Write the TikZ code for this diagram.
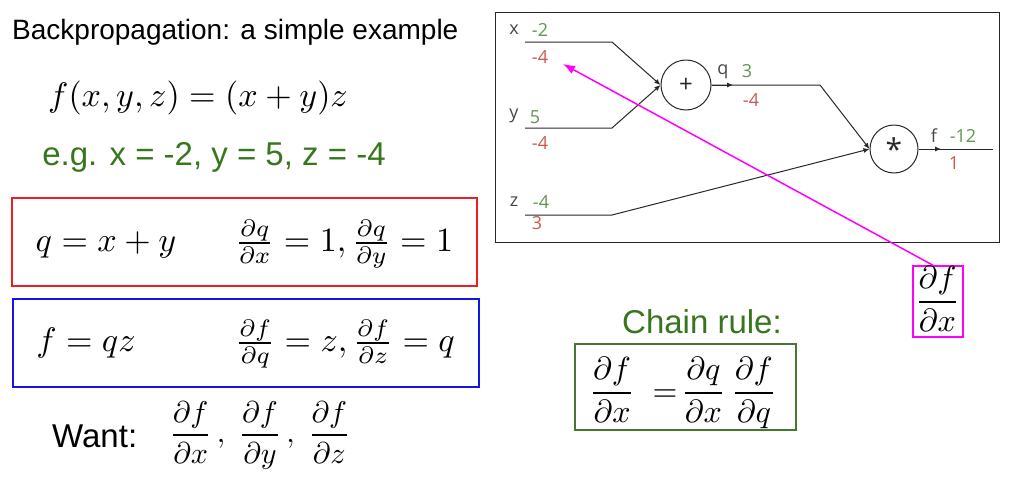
\documentclass[tikz,border=0pt]{standalone}
\usepackage{amsmath}
\usepackage[no-math]{fontspec}
\setmainfont{Liberation Sans}
\newfontfamily\graphfont{Open Sans}
\usetikzlibrary{arrows.meta}
\newcommand\setfs[1]{\fontsize{#1}{#1}\selectfont}
\definecolor{egreen}{HTML}{38761D}
\definecolor{valgreen}{RGB}{95,150,80}
\definecolor{valred}{RGB}{200,90,80}
\definecolor{lbgray}{RGB}{70,70,70}
\definecolor{linegray}{RGB}{40,40,40}
\definecolor{boxred}{RGB}{235,30,35}
\definecolor{boxblue}{RGB}{20,20,230}
\definecolor{boxgreen}{RGB}{70,120,50}
\definecolor{mag}{RGB}{255,0,255}
\begin{document}
\begin{tikzpicture}[x=1pt,y=-1pt,
  lbl/.style={font=\graphfont\setfs{18}, text=lbgray, inner sep=0pt},
  gval/.style={lbl, text=valgreen},
  rval/.style={lbl, text=valred},
  opnode/.style={circle, draw=linegray, line width=1pt, minimum size=50pt, inner sep=0pt, font=\graphfont\setfs{24}, text=linegray},
  wire/.style={draw=linegray, line width=1pt},
  tip/.style={-{Latex[length=6pt,width=5pt]}},
  mth/.style={inner sep=0pt, anchor=base, font=\normalsize},
  frame/.style={draw, line width=1.5pt, inner sep=0pt},
  ]
\useasboundingbox (0,0) rectangle (1010,477);

% left column
\node[anchor=base west, font=\setfs{28}, inner sep=0pt] (title) at (12,39) {Backpropagation: a simple example};
\node[mth, scale=3.4] (feq) at (198,106.5) {$f(x,y,z) = (x+y)z$};
\node[anchor=base, font=\setfs{33}, text=egreen, inner sep=0pt] (eg) at (214,165) {e.g. x = -2, y = 5, z = -4};

\node[frame, draw=boxred, minimum width=465pt, minimum height=88pt] (rbox) at (244.5,242) {};
\node[mth, scale=3.4] (qeq) at (106,251.5) {$q = x + y$};
\node[mth, scale=3.4] (qd) at (344,251.5) {$\frac{\partial q}{\partial x} = 1, \frac{\partial q}{\partial y} = 1$};

\node[frame, draw=boxblue, minimum width=466pt, minimum height=88pt] (bbox) at (246,343) {};
\node[mth, scale=3.4] (feq2) at (86,351.5) {$f = qz$};
\node[mth, scale=3.4] (fd) at (345,351.5) {$\frac{\partial f}{\partial q} = z, \frac{\partial f}{\partial z} = q$};

\node[anchor=base west, font=\setfs{33}, inner sep=0pt] (want) at (52,447) {Want:};
\node[mth, scale=3.0] (wantfr) at (260,442.5) {$\dfrac{\partial f}{\partial x}\,,\;\dfrac{\partial f}{\partial y}\,,\;\dfrac{\partial f}{\partial z}$};

% chain rule
\node[anchor=base, font=\setfs{33}, text=egreen, inner sep=0pt] (chain) at (702,333) {Chain rule:};
\node[frame, draw=boxgreen, minimum width=221pt, minimum height=86pt] (gbox2) at (685.5,387) {};
\node[mth, scale=3.2] (ceq) at (683,401) {$\dfrac{\partial f}{\partial x}\; = \!\dfrac{\partial q}{\partial x}\,\dfrac{\partial f}{\partial q}$};

% magenta
\node[frame, draw=mag, minimum width=50pt, minimum height=71pt] (mbox) at (938,301.5) {};
\node[mth, scale=3.2] (mfr) at (937.5,310) {$\dfrac{\partial f}{\partial x}$};

% graph
\node[draw=linegray, line width=1pt, minimum width=504pt, minimum height=230pt, inner sep=0pt] (gframe) at (747,127) {};
\node[opnode] (plus) at (686,85) {+};
\node[opnode, minimum size=48pt, font=\graphfont\setfs{30}] (times) at (894,149) {\raisebox{-8pt}{*}};

\coordinate (xs) at (525,42); \coordinate (xk) at (612,42);
\coordinate (ys) at (525,128); \coordinate (yk) at (612,128);
\coordinate (zs) at (525,215); \coordinate (zk) at (612,215);
\coordinate (qk) at (820,85); \coordinate (qm) at (733,85);
\coordinate (fe) at (993,149); \coordinate (fm) at (941,149);

\draw[wire, tip] (xs) -- (xk) -- (plus.west);
\draw[wire, tip] (ys) -- (yk) -- (plus.west);
\draw[wire, tip] (zs) -- (zk) -- (times.west);
\draw[wire, tip] (plus.east) -- (qk) -- (times.west);
\draw[wire, tip] (plus.east) -- (qm);
\draw[wire] (times.east) -- (fe);
\draw[wire, tip] (times.east) -- (fm);

\node[lbl] (xl) at (514,30) {x};
\node[gval] (xv) at (540,30) {-2};
\node[rval] (xg) at (540,57) {-4};
\node[lbl] (yl) at (514,116) {y};
\node[gval] (yv) at (535,117) {5};
\node[rval] (yg) at (540,143) {-4};
\node[lbl] (zl) at (514,202) {z};
\node[gval] (zv) at (541,202) {-4};
\node[rval] (zg) at (537,223) {3};
\node[lbl] (ql) at (723,72) {q};
\node[gval] (qv) at (747,71) {3};
\node[rval] (qg) at (751,100) {-4};
\node[lbl] (fl) at (934,136) {f};
\node[gval] (fv) at (963,136) {-12};
\node[rval] (fg) at (954,163) {1};

\coordinate (mtip) at (563,64);
\draw[mag, line width=1.5pt, -{Latex[length=12pt,width=9pt]}] ([xshift=-5pt]mbox.north) -- (mtip);
\end{tikzpicture}
\end{document}
